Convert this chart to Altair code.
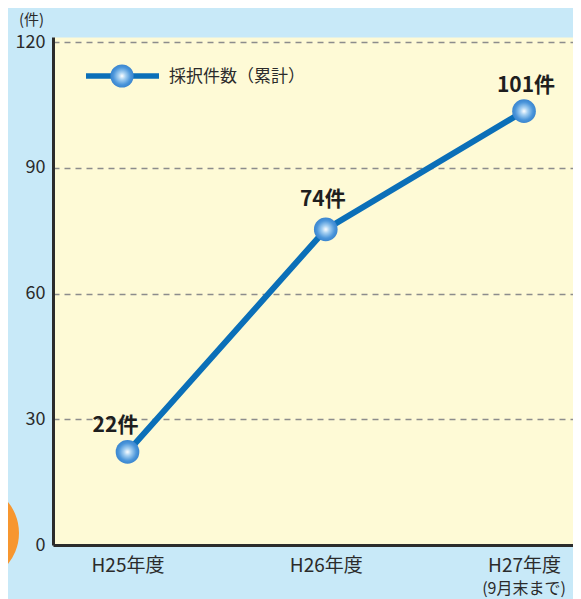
import altair as alt
import pandas as pd

# ---- data ----
x_index = [0, 1, 2]
year_labels = ["H25年度", "H26年度", "H27年度"]
year_notes = ["", "", "(9月末まで)"]
values = [22.2, 75.3, 103.5]          # positions
value_labels = ["22件", "74件", "101件"]
y_ticks = [0, 30, 60, 90, 120]
series_name = "採択件数（累計）"
unit_label = "(件)"

FONT = "Noto Sans CJK JP"
LINE_BLUE = "#0b6fb8"
TEXT = "#2b2b2b"

df = pd.DataFrame({"x": x_index, "y": values, "label": value_labels,
                   "note": year_notes})

label_expr = ""
for i, lab in enumerate(year_labels[:-1]):
    label_expr += f"datum.value == {x_index[i]} ? '{lab}' : "
label_expr += f"'{year_labels[-1]}'"

W, H = 520, 508
x_scale = alt.Scale(domain=[-0.3758, 2.247], nice=False, zero=False)
y_scale = alt.Scale(domain=[0, 121.2], nice=False)

x_enc = alt.X(
    "x:Q",
    scale=x_scale,
    axis=alt.Axis(
        values=x_index,
        labelExpr=label_expr,
        grid=False,
        ticks=False,
        domainColor=TEXT,
        domainWidth=3,
        labelFont=FONT,
        labelFontSize=19,
        labelColor=TEXT,
        labelPadding=11,
        labelOverlap=False,
        labelFlush=False,
        title=None,
    ),
)
y_enc = alt.Y(
    "y:Q",
    scale=y_scale,
    axis=alt.Axis(
        values=y_ticks,
        grid=True,
        gridDash=[6, 5],
        gridColor="#8c8c8c",
        gridWidth=1.5,
        ticks=False,
        domainColor=TEXT,
        domainWidth=3,
        labelFont=FONT,
        labelFontSize=18,
        labelColor=TEXT,
        labelPadding=8,
        title=unit_label,
        titleFont=FONT,
        titleFontSize=15,
        titleFontWeight="normal",
        titleColor=TEXT,
        titleAngle=0,
        titleAlign="center",
        titleBaseline="middle",
        titleX=-22,
        titleY=-18,
    ),
)

grad = alt.RadialGradient(
    gradient="radial",
    stops=[
        alt.GradientStop(offset=0, color="#ffffff"),
        alt.GradientStop(offset=0.3, color="#a9d2f2"),
        alt.GradientStop(offset=0.75, color="#4a95da"),
        alt.GradientStop(offset=1, color="#3a85cf"),
    ],
    x1=0.5, y1=0.5, r1=0, x2=0.5, y2=0.5, r2=0.5,
)

base = alt.Chart(df)

line = base.mark_line(color=LINE_BLUE, strokeWidth=6).encode(x=x_enc, y=y_enc)
points = base.mark_point(
    shape="circle", filled=True, fill=grad, size=560, opacity=1, strokeWidth=0
).encode(x="x:Q", y="y:Q")

label_layers = []
label_dx = {0: -12, 1: -3, 2: 2}
label_dy = {0: -26, 1: -29, 2: -25}
for i in x_index:
    label_layers.append(
        base.transform_filter(alt.datum.x == i)
        .mark_text(
            font=FONT, fontSize=21, fontWeight="bold", color="#1e1e1e",
            baseline="middle", align="center", dx=label_dx[i], dy=label_dy[i],
        )
        .encode(x="x:Q", y="y:Q", text="label:N")
    )

# second line of x label
notes = base.transform_filter(alt.datum.note != "").mark_text(
    font=FONT, fontSize=16, color=TEXT, baseline="middle", align="center"
).encode(x="x:Q", y=alt.value(H + 44), text="note:N")

# manual legend
leg = pd.DataFrame({"name": [series_name]})
leg_line = alt.Chart(leg).mark_rule(color=LINE_BLUE, strokeWidth=5.5).encode(
    x=alt.value(33), x2=alt.value(106), y=alt.value(39)
)
leg_pt = alt.Chart(leg).mark_point(
    shape="circle", filled=True, fill=grad, size=540, opacity=1, strokeWidth=0
).encode(x=alt.value(69), y=alt.value(39))
leg_txt = alt.Chart(leg).mark_text(
    font=FONT, fontSize=17, color=TEXT, align="left", baseline="middle"
).encode(x=alt.value(116), y=alt.value(39.5), text="name:N")

# decorative orange circle at lower left
deco = alt.Chart(leg).mark_point(
    shape="circle", filled=True, color="#f7962f", size=9600, opacity=1, strokeWidth=0
).encode(x=alt.value(-83), y=alt.value(496))

chart = (
    alt.layer(line, points, *label_layers, notes, leg_line, leg_pt, leg_txt, deco)
    .properties(
        width=W,
        height=H,
        background="#c8e9f8",
        padding={"left": 45, "top": 29, "right": 0, "bottom": 56},
        autosize=alt.AutoSizeParams(type="none"),
    )
    .configure_view(fill="#fefad6", strokeOpacity=0)
)

chart.save("out.html", embed_options={"renderer": "svg", "actions": False})
